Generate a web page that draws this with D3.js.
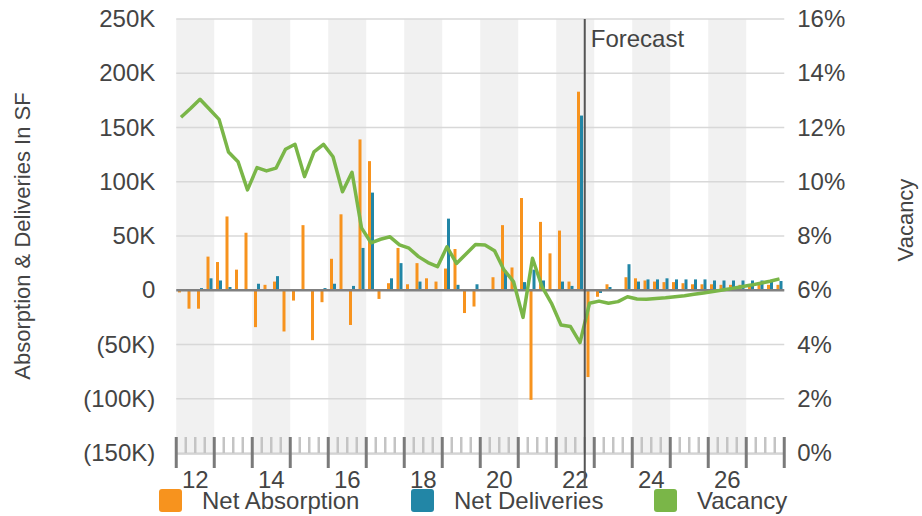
<!DOCTYPE html>
<html><head><meta charset="utf-8">
<script src="https://cdn.jsdelivr.net/npm/d3@7/dist/d3.min.js"></script>
<style>
body{margin:0;background:#fff}
text{font-family:"Liberation Sans",Arial,Helvetica,sans-serif;fill:#444}
</style>
</head><body>
<svg id="chart" width="922" height="516"></svg>
<script>
// ---------- DATA ----------
const quarters = [
"2012Q1","2012Q2","2012Q3","2012Q4","2013Q1","2013Q2","2013Q3","2013Q4",
"2014Q1","2014Q2","2014Q3","2014Q4","2015Q1","2015Q2","2015Q3","2015Q4",
"2016Q1","2016Q2","2016Q3","2016Q4","2017Q1","2017Q2","2017Q3","2017Q4",
"2018Q1","2018Q2","2018Q3","2018Q4","2019Q1","2019Q2","2019Q3","2019Q4",
"2020Q1","2020Q2","2020Q3","2020Q4","2021Q1","2021Q2","2021Q3","2021Q4",
"2022Q1","2022Q2","2022Q3","2022Q4","2023Q1","2023Q2","2023Q3","2023Q4",
"2024Q1","2024Q2","2024Q3","2024Q4","2025Q1","2025Q2","2025Q3","2025Q4",
"2026Q1","2026Q2","2026Q3","2026Q4","2027Q1","2027Q2","2027Q3","2027Q4"];
const years = ["2012","2013","2014","2015","2016","2017","2018","2019","2020","2021","2022","2023","2024","2025","2026","2027"];
const xTickYears = ["2012","2014","2016","2018","2020","2022","2024","2026"];
const xTickLabels = ["12","14","16","18","20","22","24","26"];

// Net absorption, thousands of SF
const netAbsorption = [
 -2,-17,-17,31, 26,68,19,53, -34,5,8,-38, -9.5,60,-46,-11,
 29,70,-32,139, 119,-8,6.5,39, 5.5,25,11,8, 20,38,-21,-15,
 0.6,12,60,21, 85,-101,63,34, 55,8,183,-80, -6,5.5,0,12,
 11,9,8,7.5, 7.5,6.5,5.5,5.5, 5.5,5,5,5, 5,5,5,5];
// Net deliveries, thousands of SF
const netDeliveries = [
 0,0,2,11, 9,3,0,0, 6,0,13,0, 0,0,0,2,
 6,0,4,39, 90,0,11,25, 0,8,0,0, 66,5,0,5.5,
 0,0,18,0, 7.5,19,9,0, 8,4,161,0, -2.5,3,1,24,
 8,10,10,11, 10,10,10,10, 9,9,9,9, 9,9,8.5,8.5];
// Vacancy rate, %
const vacancy = [
 12.38,12.7,13.04,12.67, 12.3,11.1,10.74,9.7, 10.52,10.4,10.5,11.2, 11.38,10.19,11.1,11.38,
 10.92,9.63,10.35,8.3, 7.75,7.88,7.97,7.67, 7.55,7.24,7.02,6.87, 7.6,6.99,7.34,7.69,
 7.67,7.46,6.75,6.32, 5.0,7.18,6.13,5.52, 4.72,4.66,4.07,5.52, 5.6,5.52,5.58,5.76,
 5.68,5.67,5.7,5.72, 5.76,5.8,5.85,5.9, 5.95,6.01,6.07,6.13, 6.19,6.26,6.33,6.42];

const leftTicks = [-150,-100,-50,0,50,100,150,200,250];
const rightTicks = [0,2,4,6,8,10,12,14,16];
const forecastStart = "2022Q4";
const seriesNames = ["Net Absorption","Net Deliveries","Vacancy"];
const colors = ["#F7931E","#2286A6","#7AB648"];

// ---------- LAYOUT ----------
const L = 176.25, R = 784.25, T = 19, B = 453;
const svg = d3.select("#chart");

const x = d3.scaleBand().domain(quarters).range([L, R]).padding(0);
const xYear = d3.scaleBand().domain(years).range([L, R]).padding(0);
const yL = d3.scaleLinear().domain([-150, 250]).range([B, T]);
const yR = d3.scaleLinear().domain([0, 16]).range([B, T]);
const bw = x.bandwidth();
const cx = q => x(q) + bw / 2;

// alternating year bands
svg.append("g").selectAll("rect").data(years.filter((d, i) => i % 2 === 0)).join("rect")
  .attr("x", d => xYear(d)).attr("y", T).attr("width", xYear.bandwidth()).attr("height", B - T + 1)
  .attr("fill", "#F1F1F1");

// gridlines
svg.append("g").selectAll("line").data(leftTicks).join("line")
  .attr("x1", L).attr("x2", R).attr("y1", d => yL(d)).attr("y2", d => yL(d))
  .attr("stroke", "#D8D8D8").attr("stroke-width", 1.5);

// bars
const bars = svg.append("g");
bars.selectAll("rect.abs").data(quarters).join("rect").attr("class", "abs")
  .attr("x", q => cx(q) - 3).attr("width", 3)
  .attr("y", (q, i) => yL(Math.max(0, netAbsorption[i])))
  .attr("height", (q, i) => Math.abs(yL(netAbsorption[i]) - yL(0)))
  .attr("fill", colors[0]);
bars.selectAll("rect.del").data(quarters).join("rect").attr("class", "del")
  .attr("x", q => cx(q)).attr("width", 3)
  .attr("y", (q, i) => yL(Math.max(0, netDeliveries[i])))
  .attr("height", (q, i) => Math.abs(yL(netDeliveries[i]) - yL(0)))
  .attr("fill", colors[1]);

// zero line
svg.append("line").attr("x1", L).attr("x2", R).attr("y1", yL(0)).attr("y2", yL(0))
  .attr("stroke", "#808080").attr("stroke-width", 2.5);

// vacancy line
svg.append("path").datum(quarters)
  .attr("d", d3.line().x(q => cx(q)).y((q, i) => yR(vacancy[i])))
  .attr("fill", "none").attr("stroke", colors[2]).attr("stroke-width", 3.5)
  .attr("stroke-linejoin", "round");

// x-axis tick marks (quarters minor, years major)
const boundaries = quarters.map(q => x(q)).concat([R]);
const tk = svg.append("g");
tk.append("line").attr("x1", L).attr("x2", R).attr("y1", 454).attr("y2", 454)
  .attr("stroke", "#CFCFCF").attr("stroke-width", 1.5);
tk.selectAll("line.t").data(boundaries).join("line").attr("class", "t")
  .attr("x1", d => d).attr("x2", d => d)
  .attr("y1", 437)
  .attr("y2", (d, i) => i % 4 === 0 ? 468 : 453)
  .attr("stroke", (d, i) => i % 4 === 0 ? "#7A7A7A" : "#C4C4C4")
  .attr("stroke-width", (d, i) => i % 4 === 0 ? 3 : 2.5);

// x labels
const xAxis = d3.axisBottom(xYear).tickValues(xTickYears).tickSize(0).tickPadding(17)
  .tickFormat(d => xTickLabels[xTickYears.indexOf(d)]);
const gx = svg.append("g").attr("transform", `translate(0,454)`).call(xAxis);
gx.select(".domain").remove();
gx.selectAll("text").style("font-size", "24px").style("fill", "#444").attr("font-family", null);

// forecast line + label
const fx = x(forecastStart);
svg.append("line").attr("x1", fx).attr("x2", fx).attr("y1", T).attr("y2", 487)
  .attr("stroke", "#555").attr("stroke-width", 2);
svg.append("text").attr("x", fx + 6).attr("y", 47).style("font-size", "24px").text("Forecast");

// left axis
const fmtK = d => d === 0 ? "0" : (d < 0 ? `(${-d}K)` : `${d}K`);
const gl = svg.append("g").attr("transform", `translate(${L},0)`)
  .call(d3.axisLeft(yL).tickValues(leftTicks).tickSize(0).tickPadding(21).tickFormat(fmtK));
gl.select(".domain").remove();
gl.selectAll("text").style("font-size", "24px").style("fill", "#444").attr("font-family", null);

// right axis
const gr = svg.append("g").attr("transform", `translate(${R},0)`)
  .call(d3.axisRight(yR).tickValues(rightTicks).tickSize(0).tickPadding(13).tickFormat(d => d + "%"));
gr.select(".domain").remove();
gr.selectAll("text").style("font-size", "24px").style("fill", "#444").attr("font-family", null);

// axis titles
svg.append("text").attr("transform", "translate(22,236) rotate(-90)")
  .attr("text-anchor", "middle").attr("dominant-baseline", "central")
  .style("font-size", "22px").text("Absorption & Deliveries In SF");
svg.append("text").attr("transform", "translate(905,220) rotate(-90)")
  .attr("text-anchor", "middle").attr("dominant-baseline", "central")
  .style("font-size", "22px").text("Vacancy");

// legend
const legendX = [159, 411, 654];
const lg = svg.append("g").selectAll("g").data(seriesNames).join("g")
  .attr("transform", (d, i) => `translate(${legendX[i]},489)`);
lg.append("rect").attr("width", 23).attr("height", 23).attr("rx", 3)
  .attr("fill", (d, i) => colors[i]);
lg.append("text").attr("x", 43).attr("y", 20).style("font-size", "24px").text(d => d);
</script>
</body></html>
